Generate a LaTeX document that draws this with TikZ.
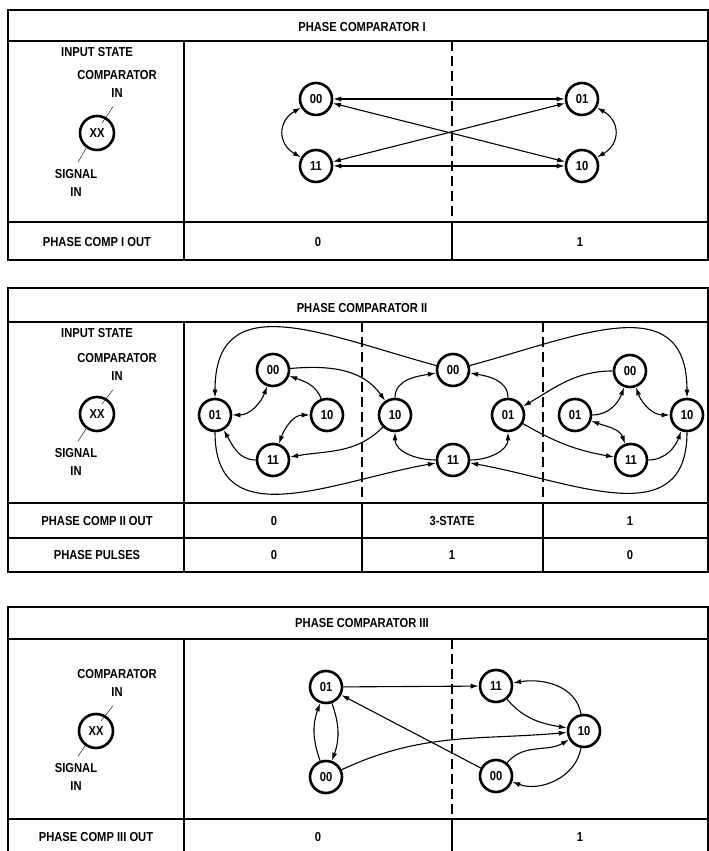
\documentclass[tikz,border=0pt]{standalone}
\usepackage{fontspec}
\setmainfont{Liberation Sans}[FakeStretch=0.86]
\usetikzlibrary{arrows.meta}
\newcommand{\lblfont}{\fontsize{13}{18}\selectfont\bfseries}
\tikzstyle{state}=[circle, draw, line width=2.6pt, inner sep=0pt, minimum size=32pt, font=\lblfont]
\tikzstyle{inbox}=[state, minimum size=34pt]
\tikzstyle{txt}=[font=\lblfont, align=center, inner sep=0pt]
\tikzstyle{tline}=[line width=1.5pt]
\tikzstyle{dline}=[line width=1.3pt, dash pattern=on 10pt off 5pt]
\newcommand{\snode}{\node[state]}
\begin{document}
\begin{tikzpicture}[x=1pt, y=1pt
  ,>={Latex[length=8pt,width=5pt]}
  ,every edge/.style={draw, line width=1.1pt}
]
\useasboundingbox (0,0) rectangle (709,851);

% phase comparator I
\draw[tline] (8,591) rectangle (708,841);
\draw[tline] (8,810) -- (708,810);
\draw[tline] (8,629) -- (708,629);
\draw[tline] (184,591) -- (184,810);
\draw[dline] (452,810) -- (452,629);
\draw[tline] (452,629) -- (452,591);
\node[txt] (h1) at (362,824) {PHASE COMPARATOR I};
\node[txt] (is1) at (97,799) {INPUT STATE};
\node[txt] (ci1) at (117,767) {COMPARATOR\\IN};
\node[inbox] (x1) at (97,718) {XX};
\node[txt] (si1) at (76,668) {SIGNAL\\IN};
\draw ([shift={(-4,-9)}]ci1.south) -- ([shift={(5,10)}]x1.center);
\draw ([shift={(-9,-12)}]x1.center) -- ([shift={(2,7)}]si1.north);
\snode (a00) at (316,752) {00};
\snode (a01) at (582,752) {01};
\snode (a11) at (316,685) {11};
\snode (a10) at (582,685) {10};
\path
(a00) edge[<->] (a01)
      edge[<->] (a10)
      edge[<->, out=210, in=150, looseness=1.4] (a11)
(a11) edge[<->] (a10)
      edge[<->] (a01)
(a01) edge[<->, out=-30, in=30, looseness=1.4] (a10)
;
\node[txt] (o1) at (97,609) {PHASE COMP I OUT};
\node[txt] (o1a) at (318,609) {0};
\node[txt] (o1b) at (580,609) {1};

% phase comparator II
\draw[tline] (8,279) rectangle (708,563);
\draw[tline] (8,529) -- (708,529);
\draw[tline] (8,348) -- (708,348);
\draw[tline] (8,313) -- (708,313);
\draw[tline] (184,279) -- (184,529);
\draw[dline] (362,529) -- (362,348);
\draw[dline] (543,529) -- (543,348);
\draw[tline] (362,348) -- (362,279);
\draw[tline] (543,348) -- (543,279);
\node[txt] (h2) at (362,543) {PHASE COMPARATOR II};
\node[txt] (is2) at (97,518) {INPUT STATE};
\node[txt] (ci2) at (117,484) {COMPARATOR\\IN};
\node[inbox] (x2) at (97,437) {XX};
\node[txt] (si2) at (76,389) {SIGNAL\\IN};
\draw ([shift={(-4,-9)}]ci2.south) -- ([shift={(5,10)}]x2.center);
\draw ([shift={(-9,-12)}]x2.center) -- ([shift={(2,7)}]si2.north);
\snode (l00) at (273,481) {00};
\snode (l01) at (215,436) {01};
\snode (l10) at (327,436) {10};
\snode (l11) at (273,391) {11};
\snode (m00) at (453,481) {00};
\snode (m10) at (395,436) {10};
\snode (m01) at (508,436) {01};
\snode (m11) at (453,391) {11};
\snode (r00) at (630,480) {00};
\snode (r01) at (575,436) {01};
\snode (r10) at (687,436) {10};
\snode (r11) at (631,391) {11};
\path
(l01) edge[<->, out=0, in=-110] (l00)
(l10) edge[->, out=110, in=-20] (l00)
      edge[<->, out=180, in=70] (l11)
(l11) edge[->, out=180, in=-60] (l01)
(l00) edge[->, out=5, in=125] (m10)
(m10) edge[->, out=-135, in=10] (l11)
(m00) edge[->, out=165, in=90, looseness=1.3] (l01)
(l01) edge[->, out=-90, in=190, looseness=1.2] (m11)
(m10) edge[->, out=90, in=190] (m00)
(m01) edge[->, out=90, in=-10] (m00)
(m11) edge[->, out=180, in=-90] (m10)
      edge[->, out=0, in=-90] (m01)
(m00) edge[->, out=15, in=90, looseness=1.3] (r10)
(r10) edge[->, out=-90, in=-10, looseness=1.2] (m11)
(r00) edge[->, out=180, in=30] (m01)
(m01) edge[->, out=-30, in=170] (r11)
(r01) edge[->, out=0, in=-110] (r00)
(r00) edge[<->, out=-70, in=180] (r10)
(r01) edge[<->, out=-20, in=110] (r11)
(r11) edge[->, out=0, in=-110] (r10)
;
\node[txt] (o2) at (97,330) {PHASE COMP II OUT};
\node[txt] (o2a) at (274,330) {0};
\node[txt] (o2b) at (452,330) {3-STATE};
\node[txt] (o2c) at (630,330) {1};
\node[txt] (p2) at (97,296) {PHASE PULSES};
\node[txt] (p2a) at (274,296) {0};
\node[txt] (p2b) at (452,296) {1};
\node[txt] (p2c) at (630,296) {0};

% phase comparator III
\draw[tline] (8,0) -- (8,244) -- (708,244) -- (708,0);
\draw[tline] (8,212) -- (708,212);
\draw[tline] (8,32) -- (708,32);
\draw[tline] (184,0) -- (184,212);
\draw[dline] (452,212) -- (452,32);
\draw[tline] (452,32) -- (452,0);
\node[txt] (h3) at (362,228) {PHASE COMPARATOR III};
\node[txt] (ci3) at (117,168) {COMPARATOR\\IN};
\node[inbox] (x3) at (96,120) {XX};
\node[txt] (si3) at (76,74) {SIGNAL\\IN};
\draw ([shift={(-4,-9)}]ci3.south) -- ([shift={(5,10)}]x3.center);
\draw ([shift={(-9,-12)}]x3.center) -- ([shift={(2,7)}]si3.north);
\snode (c01) at (326,164) {01};
\snode (c00) at (326,74) {00};
\snode (c11) at (496,165) {11};
\snode (c10) at (584,120) {10};
\snode (d00) at (496,75) {00};
\path
(c01) edge[->] (c11)
      edge[->, out=-70, in=70] (c00)
(c00) edge[->, out=110, in=-110] (c01)
      edge[->, out=25, in=185] (c10)
(d00) edge[->] (c01)
      edge[->, out=50, in=210] (c10)
(c11) edge[->, out=-50, in=170] (c10)
(c10) edge[->, out=100, in=10] (c11)
      edge[->, out=-100, in=-20] (d00)
;
\node[txt] (o3) at (96,14) {PHASE COMP III OUT};
\node[txt] (o3a) at (318,14) {0};
\node[txt] (o3b) at (580,14) {1};
\end{tikzpicture}
\end{document}
